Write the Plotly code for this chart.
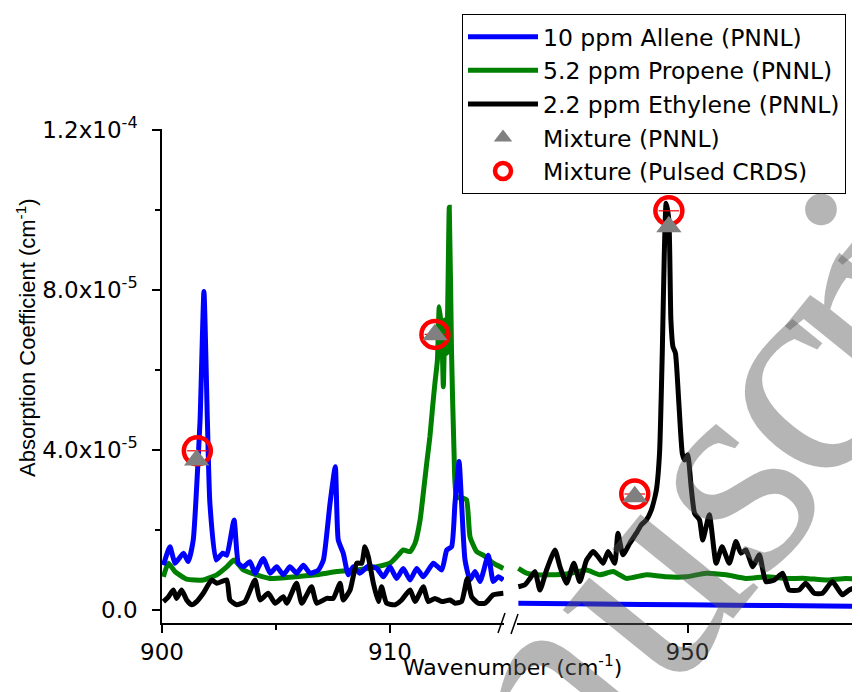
import plotly.graph_objects as go

SCALE = 1e-5  # values below are in units of 1e-5 cm^-1

# ---------------- 10 ppm Allene (PNNL) ----------------
allene_l_wn = [900.06, 900.35, 900.57, 900.94, 901.15, 901.37, 901.52, 901.67, 901.84, 901.99, 902.10,
               902.37, 902.66, 902.84, 903.16, 903.35, 903.57, 903.86, 904.08, 904.44, 904.74, 905.03,
               905.32, 905.61, 905.90, 906.20, 906.49, 906.86, 907.08, 907.37, 907.60, 907.73, 907.95,
               908.17, 908.39, 908.68, 909.05, 909.42, 909.71, 910.00, 910.29, 910.58, 910.88, 911.17,
               911.46, 911.90, 912.27, 912.49, 912.70, 912.85, 913.03, 913.14, 913.29, 913.51, 913.73,
               913.95, 914.31, 914.53, 914.75, 914.97]
allene_l_val = [1.12, 1.58, 1.17, 1.42, 1.21, 1.75, 3.08, 4.75, 7.96, 4.75, 2.67,
                1.25, 1.42, 1.37, 2.25, 1.17, 1.08, 1.21, 0.92, 1.29, 0.92, 1.08,
                0.88, 1.08, 0.92, 1.12, 0.92, 1.00, 1.25, 2.67, 3.58, 1.75, 1.42,
                0.88, 1.08, 0.92, 1.10, 1.04, 0.83, 1.08, 0.79, 1.04, 0.75, 1.04,
                0.83, 1.17, 1.00, 1.50, 1.58, 2.67, 3.71, 2.67, 1.25, 0.75, 0.96,
                0.71, 1.37, 0.71, 0.83, 0.75]
allene_r_wn = [942.56, 946.0, 950.0, 954.0, 957.5]
allene_r_val = [0.17, 0.15, 0.13, 0.11, 0.09]

# ---------------- 5.2 ppm Propene (PNNL) ----------------
propene_l_wn = [900.06, 900.28, 900.57, 901.08, 901.81, 902.40, 902.84, 903.16, 903.57, 904.15, 904.74,
                905.61, 906.78, 907.66, 908.54, 909.42, 910.00, 910.29, 910.58, 910.88, 911.10, 911.32,
                911.46, 911.61, 911.75, 911.87, 911.97, 912.08, 912.16, 912.27, 912.34, 912.41, 912.49,
                912.60, 912.70, 912.81, 912.92, 913.22, 913.36, 913.51, 913.80, 914.09, 914.53, 914.97]
propene_l_val = [0.83, 1.17, 0.96, 0.77, 0.75, 0.88, 1.08, 1.25, 1.00, 0.88, 0.79,
                 0.82, 0.88, 0.96, 1.00, 1.08, 1.17, 1.33, 1.50, 1.46, 1.67, 2.25,
                 2.92, 3.67, 4.33, 5.08, 5.67, 6.25, 7.58, 6.92, 5.58, 7.25, 6.42,
                 10.07, 6.42, 3.92, 2.83, 2.79, 2.75, 1.83, 1.46, 1.37, 1.17, 1.04]
propene_r_wn = [942.56, 942.92, 943.36, 943.95, 944.68, 945.56, 946.14, 946.73, 947.31, 948.19, 949.06,
                949.94, 950.82, 951.70, 952.57, 953.45, 954.33, 955.20, 956.08, 956.96, 957.47]
propene_r_val = [1.04, 0.92, 0.88, 0.88, 0.90, 1.00, 0.88, 0.96, 0.79, 0.88, 0.83,
                 0.83, 0.92, 0.88, 0.79, 0.83, 0.79, 0.79, 0.75, 0.79, 0.77]

# ---------------- 2.2 ppm Ethylene (PNNL) ----------------
ethylene_l_wn = [900.06, 900.28, 900.50, 900.64, 900.86, 901.08, 901.30, 901.52, 901.81, 902.18, 902.40,
                 902.84, 902.98, 903.27, 903.64, 904.08, 904.30, 904.66, 904.96, 905.32, 905.47, 905.90,
                 906.13, 906.56, 906.78, 907.22, 907.51, 907.81, 907.95, 908.25, 908.54, 908.76, 908.90,
                 909.05, 909.27, 909.49, 909.63, 909.85, 910.22, 910.51, 910.88, 911.10, 911.46, 911.68,
                 911.97, 912.27, 912.63, 912.85, 913.14, 913.39, 913.58, 913.87, 914.17, 914.53, 914.97]
ethylene_l_val = [0.21, 0.33, 0.50, 0.29, 0.50, 0.25, 0.13, 0.21, 0.42, 0.75, 0.67,
                  0.75, 0.25, 0.13, 0.21, 0.75, 0.25, 0.42, 0.17, 0.33, 0.17, 0.67,
                  0.17, 0.58, 0.17, 0.29, 0.29, 0.67, 0.25, 0.50, 1.17, 1.17, 1.58,
                  1.33, 0.67, 0.21, 0.58, 0.17, 0.13, 0.25, 0.50, 0.21, 0.58, 0.21,
                  0.29, 0.21, 0.25, 0.17, 0.21, 0.79, 0.33, 0.17, 0.17, 0.38, 0.42]
ethylene_r_wn = [942.56, 942.85, 943.07, 943.29, 943.51, 943.80, 944.17, 944.39, 944.68, 945.00, 945.26,
                 945.56, 945.85, 946.07, 946.29, 946.51, 946.80, 946.94, 947.16, 947.46, 947.75, 947.97,
                 948.19, 948.41, 948.63, 948.77, 948.89, 948.98, 949.06, 949.18, 949.27, 949.36, 949.47,
                 949.62, 949.77, 949.87, 950.01, 950.16, 950.31, 950.53, 950.67, 950.96, 951.26, 951.52,
                 951.84, 952.13, 952.35, 952.57, 952.87, 953.16, 953.45, 953.82, 954.18, 954.47, 954.91,
                 955.20, 955.57, 955.94, 956.37, 956.81, 957.11, 957.47]
ethylene_r_val = [0.58, 0.63, 0.79, 0.96, 0.50, 1.00, 1.50, 1.08, 0.67, 1.17, 0.71,
                  1.25, 1.46, 1.33, 1.17, 1.46, 1.17, 1.92, 1.38, 1.67, 1.92, 2.13,
                  2.25, 2.50, 3.00, 3.92, 6.42, 8.92, 10.17, 9.75, 7.25, 6.58, 6.42,
                  5.17, 3.92, 3.75, 3.88, 3.08, 2.42, 2.25, 1.75, 2.38, 1.17, 1.58,
                  1.17, 1.71, 1.42, 1.50, 1.08, 1.38, 0.71, 0.75, 0.92, 0.50, 0.50,
                  0.67, 0.42, 0.42, 0.71, 0.38, 0.50, 0.58]

# ---------------- Mixture points ----------------
mix_pnnl_l_wn = [901.52, 911.97]
mix_pnnl_l_val = [3.75, 6.88]
mix_pnnl_r_wn = [947.68, 949.18]
mix_pnnl_r_val = [2.83, 9.58]
mix_crds_l_wn = [901.55, 911.97]
mix_crds_l_val = [3.98, 6.89]
mix_crds_r_wn = [947.68, 949.18]
mix_crds_r_val = [2.90, 9.98]
mix_crds_l_xerr = [0.45, 0.45]
mix_crds_r_xerr = [0.45, 0.45]

# ---------------- Axis ticks ----------------
y_tickvals = [0, 4e-5, 8e-5, 1.2e-4]
y_ticktext = ["0.0", "4.0x10<sup>-5</sup>", "8.0x10<sup>-5</sup>", "1.2x10<sup>-4</sup>"]
y_minorvals = [2e-5, 6e-5, 1e-4]
y_right_vals = [0, 2e-5, 4e-5, 6e-5, 8e-5, 1e-4, 1.2e-4]
xl_tickvals = [900, 910]
xl_minorvals = [905]
xr_tickvals = [950]

# watermark letters (partially visible "...nuscri..." of an "Accepted Manuscript" stamp)
wm_letters = ["n", "u", "s", "c", "r", "i"]

FONT = "DejaVu Sans, Verdana, sans-serif"
FONT_V = "Liberation Sans, Arial, sans-serif"
BLUE, GREEN, BLACK, GRAY, RED = "#0000FF", "#008000", "#000000", "#808080", "#FF0000"
LW = 5


def sc(v):
    return [a * SCALE for a in v]


def ln(color):
    return dict(color=color, width=LW, shape="spline", smoothing=0.5)


fig = go.Figure()

# Propene (drawn first, below)
fig.add_trace(go.Scatter(x=propene_l_wn, y=sc(propene_l_val), mode="lines", line=ln(GREEN),
                         name="5.2 ppm Propene (PNNL)", legendgroup="p", legendrank=2, xaxis="x", yaxis="y"))
fig.add_trace(go.Scatter(x=propene_r_wn, y=sc(propene_r_val), mode="lines", line=ln(GREEN),
                         name="5.2 ppm Propene (PNNL)", legendgroup="p", showlegend=False, xaxis="x2", yaxis="y"))
# Allene
fig.add_trace(go.Scatter(x=allene_l_wn, y=sc(allene_l_val), mode="lines", line=ln(BLUE),
                         name="10 ppm Allene (PNNL)", legendgroup="a", legendrank=1, xaxis="x", yaxis="y"))
fig.add_trace(go.Scatter(x=allene_r_wn, y=sc(allene_r_val), mode="lines", line=ln(BLUE),
                         name="10 ppm Allene (PNNL)", legendgroup="a", showlegend=False, xaxis="x2", yaxis="y"))
# Ethylene
fig.add_trace(go.Scatter(x=ethylene_l_wn, y=sc(ethylene_l_val), mode="lines", line=ln(BLACK),
                         name="2.2 ppm Ethylene (PNNL)", legendgroup="e", legendrank=3, xaxis="x", yaxis="y"))
fig.add_trace(go.Scatter(x=ethylene_r_wn, y=sc(ethylene_r_val), mode="lines", line=ln(BLACK),
                         name="2.2 ppm Ethylene (PNNL)", legendgroup="e", showlegend=False, xaxis="x2", yaxis="y"))
# Mixture (Pulsed CRDS) circles
circ = dict(symbol="circle-open", size=27, color=RED, line=dict(width=4.5, color=RED))
errx = dict(type="data", color=RED, thickness=1.2, width=0)
fig.add_trace(go.Scatter(x=mix_crds_l_wn, y=sc(mix_crds_l_val), mode="markers", marker=circ,
                         error_x=dict(array=mix_crds_l_xerr, **errx),
                         name="Mixture (Pulsed CRDS)", legendgroup="c", legendrank=5, xaxis="x", yaxis="y"))
fig.add_trace(go.Scatter(x=mix_crds_r_wn, y=sc(mix_crds_r_val), mode="markers", marker=circ,
                         error_x=dict(array=mix_crds_r_xerr, **errx),
                         name="Mixture (Pulsed CRDS)", legendgroup="c", showlegend=False, xaxis="x2", yaxis="y"))
# Mixture (PNNL) triangles
tri = dict(symbol="triangle-up", size=22, color=GRAY)
fig.add_trace(go.Scatter(x=mix_pnnl_l_wn, y=sc(mix_pnnl_l_val), mode="markers", marker=tri,
                         name="Mixture (PNNL)", legendgroup="t", legendrank=4, xaxis="x", yaxis="y"))
fig.add_trace(go.Scatter(x=mix_pnnl_r_wn, y=sc(mix_pnnl_r_val), mode="markers", marker=tri,
                         name="Mixture (PNNL)", legendgroup="t", showlegend=False, xaxis="x2", yaxis="y"))

# geometry (page pixels; the page body adds an 8 px offset)
OFF = 8
FIG_W, FIG_H = 860 - OFF, 692 - OFF
L, R, T, B = 162, 858, 129, 623
W, H = R - L, B - T


def px(xp):
    return (xp - L) / W


def py(yp):
    return (B - yp) / H


yrange = [-0.325e-5, 12.025e-5]
axis_common = dict(showline=True, linecolor="black", linewidth=1.5, showgrid=False, zeroline=False,
                   tickcolor="black", tickwidth=1.5, tickfont=dict(family=FONT, size=23, color="black"))

fig.update_layout(
    width=FIG_W, height=FIG_H,
    margin=dict(l=L - OFF, r=FIG_W - (R - OFF), t=T - OFF, b=FIG_H - (B - OFF)),
    paper_bgcolor="white", plot_bgcolor="white",
    font=dict(family=FONT, color="black"),
    xaxis=dict(domain=[0, px(504)], range=[900, 915], anchor="y", ticks="outside", ticklen=8,
               tickvals=xl_tickvals, minor=dict(tickvals=xl_minorvals, ticks="outside", ticklen=5,
                                                tickcolor="black", tickwidth=1.5), **axis_common),
    xaxis2=dict(domain=[px(517), 1], range=[942.5, 957.5], anchor="y", ticks="outside", ticklen=8,
                tickvals=xr_tickvals, **axis_common),
    xaxis3=dict(domain=[0, px(504)], range=[900, 915], anchor="y", overlaying="x", side="top",
                ticks="inside", ticklen=8, tickvals=xl_tickvals, showticklabels=False,
                minor=dict(tickvals=xl_minorvals, ticks="inside", ticklen=5, tickcolor="black", tickwidth=1.5),
                **axis_common),
    yaxis=dict(range=yrange, anchor="x", ticks="outside", ticklen=8, tickvals=y_tickvals, ticktext=y_ticktext,
               ticklabelstandoff=10,
               minor=dict(tickvals=y_minorvals, ticks="outside", ticklen=5, tickcolor="black", tickwidth=1.5),
               **axis_common),
    yaxis2=dict(range=yrange, anchor="x2", overlaying="y", side="right", ticks="inside", ticklen=6,
                tickvals=y_right_vals, showticklabels=False, **axis_common),
    legend=dict(x=px(462), y=py(14), xanchor="left", yanchor="top", bgcolor="white", bordercolor="black",
                borderwidth=1, font=dict(family=FONT, size=23.5, color="black"), itemwidth=70,
                tracegroupgap=0, traceorder="normal"),
    showlegend=True,
)

# axis titles as annotations for exact placement
fig.add_annotation(text="Absorption Coefficient (cm<sup>-1</sup>)", xref="paper", yref="paper",
                   x=px(26), y=py(338), textangle=-90, showarrow=False,
                   font=dict(family=FONT_V, size=22, color="black"), xanchor="center", yanchor="middle")
fig.add_annotation(text="Wavenumber (cm<sup>-1</sup>)", xref="paper", yref="paper",
                   x=px(512), y=py(666), showarrow=False,
                   font=dict(family=FONT, size=22, color="black"), xanchor="center", yanchor="middle")

# axis break marks
for (x0, y0, x1, y1) in [(498, 633, 505, 613), (511, 634, 518, 614)]:
    fig.add_shape(type="line", xref="paper", yref="paper", x0=px(x0), y0=py(y0), x1=px(x1), y1=py(y1),
                  line=dict(color="black", width=1.5))

# watermark
wm_pos = [(536, 694), (636, 578), (720, 476), (786, 384), (841, 315), (886, 259)]
for ch, (wx, wy) in zip(wm_letters, wm_pos):
    fig.add_annotation(text=ch, xref="paper", yref="paper", x=px(wx), y=py(wy), textangle=-51,
                       showarrow=False, xanchor="center", yanchor="middle",
                       font=dict(family="Liberation Serif, Times New Roman, serif", size=300,
                                 color="rgba(90,90,90,0.45)"))

fig.write_html("out.html")
